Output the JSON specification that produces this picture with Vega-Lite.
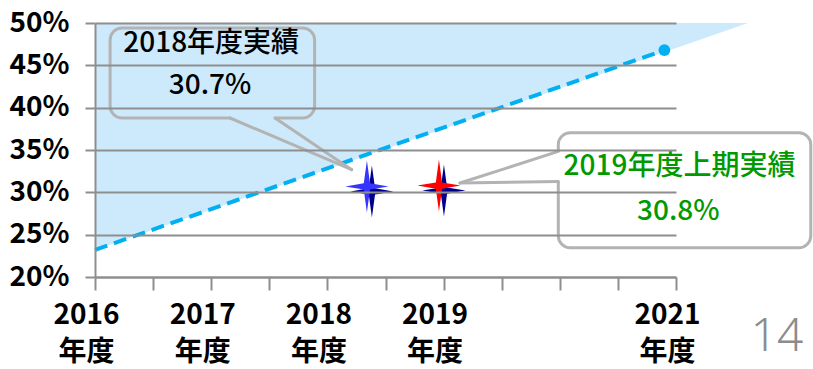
{
  "$schema": "https://vega.github.io/schema/vega-lite/v6.json",
  "width": 581,
  "height": 254,
  "autosize": {"type": "none"},
  "padding": {"left": 95, "top": 23, "right": 137, "bottom": 92},
  "background": "white",
  "config": {"view": {"stroke": null}, "font": "Noto Sans CJK JP"},
  "datasets": {
    "target_line": [
      {"year": 2016, "ratio": 23.2},
      {"year": 2020.9, "ratio": 46.8}
    ],
    "target_area": [
      {"year": 2016, "ratio": 23.2},
      {"year": 2021.62, "ratio": 50}
    ],
    "actual": [
      {"label": "2018年度実績", "year": 2018.34, "ratio": 30.7},
      {"label": "2019年度上期実績", "year": 2018.96, "ratio": 30.8}
    ]
  },
  "layer": [
    {
      "data": {"name": "target_area"},
      "mark": {"type": "area", "color": "#cdeafc", "opacity": 1, "clip": false},
      "encoding": {
        "x": {
          "field": "year", "type": "quantitative",
          "scale": {"domain": [2016, 2021], "nice": false, "zero": false},
          "axis": {
            "title": null,
            "values": [2016, 2016.5, 2017, 2017.5, 2018, 2018.5, 2019, 2019.5, 2020, 2020.5, 2021],
            "labelExpr": "indexof([2016,2017,2018,2019,2021], datum.value) >= 0 ? [toString(datum.value), '年度'] : ''",
            "grid": false,
            "domainColor": "#8e8e8e", "domainWidth": 2,
            "tickColor": "#8e8e8e", "tickWidth": 2, "tickSize": 13,
            "labelFont": "Noto Sans CJK JP", "labelFontWeight": "bold", "labelFontSize": 28,
            "labelLineHeight": 37, "labelPadding": 11, "labelOffset": -9,
            "labelFlush": false, "labelOverlap": false, "labelBound": false,
            "labelColor": "black", "zindex": 1
          }
        },
        "y": {
          "field": "ratio", "type": "quantitative",
          "scale": {"domain": [20, 50], "nice": false, "zero": false},
          "axis": {
            "title": null,
            "values": [20, 25, 30, 35, 40, 45, 50],
            "labelExpr": "datum.value + '%'",
            "grid": true, "gridColor": "#8e8e8e", "gridWidth": 2,
            "domainColor": "#8e8e8e", "domainWidth": 2,
            "tickColor": "#8e8e8e", "tickWidth": 2, "tickSize": 10,
            "labelFont": "Noto Sans CJK JP", "labelFontWeight": "bold", "labelFontSize": 28,
            "labelPadding": 16, "labelColor": "black", "labelBaseline": "middle",
            "labelFlush": false, "labelOverlap": false, "zindex": 1
          }
        },
        "y2": {"datum": 50}
      }
    },
    {
      "data": {"name": "target_line"},
      "mark": {"type": "line", "color": "#00b0f0", "strokeWidth": 4, "strokeDash": [13, 7]},
      "encoding": {
        "x": {"field": "year", "type": "quantitative"},
        "y": {"field": "ratio", "type": "quantitative"}
      }
    },
    {
      "data": {"name": "target_line"},
      "transform": [{"filter": "datum.year > 2020"}],
      "mark": {"type": "circle", "color": "#00b0f0", "size": 140, "opacity": 1},
      "encoding": {
        "x": {"field": "year", "type": "quantitative"},
        "y": {"field": "ratio", "type": "quantitative"}
      }
    },
    {
      "data": {"values": [{}]},
      "mark": {"type": "rect", "filled": false, "stroke": "#b3b3b3", "strokeWidth": 3, "cornerRadius": 12, "clip": false},
      "encoding": {
        "x": {"datum": 2016.13}, "x2": {"datum": 2017.89},
        "y": {"datum": 49.41}, "y2": {"datum": 38.78}
      }
    },
    {
      "data": {"values": [{}]},
      "mark": {"type": "rect", "filled": false, "stroke": "#b3b3b3", "strokeWidth": 3, "cornerRadius": 12, "clip": false},
      "encoding": {
        "x": {"datum": 2019.987}, "x2": {"datum": 2022.16},
        "y": {"datum": 37.04}, "y2": {"datum": 23.46}
      }
    },
    {
      "data": {"values": [{}]},
      "mark": {"type": "rule", "color": "#cdeafc", "strokeWidth": 5, "clip": false},
      "encoding": {
        "x": {"datum": 2017.17}, "x2": {"datum": 2017.54},
        "y": {"datum": 38.78}, "y2": {"datum": 38.78}
      }
    },
    {
      "data": {"values": [{}]},
      "mark": {"type": "rule", "color": "white", "strokeWidth": 5, "clip": false},
      "encoding": {
        "x": {"datum": 2019.987}, "x2": {"datum": 2019.987},
        "y": {"datum": 34.8}, "y2": {"datum": 31.32}
      }
    },
    {
      "data": {"values": [{}]},
      "mark": {"type": "rule", "color": "#b3b3b3", "strokeWidth": 3, "strokeCap": "round", "clip": false},
      "encoding": {
        "x": {"datum": 2017.162}, "x2": {"datum": 2018.209},
        "y": {"datum": 38.78}, "y2": {"datum": 32.67}
      }
    },
    {
      "data": {"values": [{}]},
      "mark": {"type": "rule", "color": "#b3b3b3", "strokeWidth": 3, "strokeCap": "round", "clip": false},
      "encoding": {
        "x": {"datum": 2017.549}, "x2": {"datum": 2018.209},
        "y": {"datum": 38.78}, "y2": {"datum": 32.67}
      }
    },
    {
      "data": {"values": [{}]},
      "mark": {"type": "rule", "color": "#b3b3b3", "strokeWidth": 3, "strokeCap": "round", "clip": false},
      "encoding": {
        "x": {"datum": 2019.987}, "x2": {"datum": 2019.141},
        "y": {"datum": 34.83}, "y2": {"datum": 31.1}
      }
    },
    {
      "data": {"values": [{}]},
      "mark": {"type": "rule", "color": "#b3b3b3", "strokeWidth": 3, "strokeCap": "round", "clip": false},
      "encoding": {
        "x": {"datum": 2019.987}, "x2": {"datum": 2019.141},
        "y": {"datum": 31.29}, "y2": {"datum": 31.1}
      }
    },
    {
      "data": {"name": "actual"},
      "mark": {
        "type": "point",
        "shape": "M0,-1L0.12,-0.12L0.83,0L0.12,0.12L0,1L-0.12,0.12L-0.83,0L-0.12,-0.12Z",
        "filled": true, "size": 2704, "color": "#00008b", "opacity": 1, "strokeWidth": 0,
        "xOffset": 5, "yOffset": 5
      },
      "encoding": {
        "x": {"field": "year", "type": "quantitative"},
        "y": {"field": "ratio", "type": "quantitative"}
      }
    },
    {
      "data": {"name": "actual"},
      "mark": {
        "type": "point",
        "shape": "M0,-1L0.12,-0.12L0.83,0L0.12,0.12L0,1L-0.12,0.12L-0.83,0L-0.12,-0.12Z",
        "filled": true, "size": 2704, "opacity": 1, "strokeWidth": 0
      },
      "encoding": {
        "x": {"field": "year", "type": "quantitative"},
        "y": {"field": "ratio", "type": "quantitative"},
        "color": {
          "field": "label", "type": "nominal",
          "scale": {"domain": ["2018年度実績", "2019年度上期実績"], "range": ["#3535ff", "#ff0000"]},
          "legend": null
        }
      }
    },
    {
      "data": {"values": [{}]},
      "mark": {"type": "text", "text": "2018年度実績", "font": "Noto Sans CJK JP", "fontWeight": 500, "fontSize": 28, "color": "black", "align": "center", "baseline": "middle", "clip": false},
      "encoding": {"x": {"datum": 2017.0}, "y": {"datum": 47.55}}
    },
    {
      "data": {"values": [{}]},
      "mark": {"type": "text", "text": "30.7%", "font": "Noto Sans CJK JP", "fontWeight": 500, "fontSize": 28, "color": "black", "align": "center", "baseline": "middle", "clip": false},
      "encoding": {"x": {"datum": 2016.99}, "y": {"datum": 42.6}}
    },
    {
      "data": {"values": [{}]},
      "mark": {"type": "text", "text": "2019年度上期実績", "font": "Noto Sans CJK JP", "fontWeight": 500, "fontSize": 28, "color": "#009a00", "align": "center", "baseline": "middle", "clip": false},
      "encoding": {"x": {"datum": 2021.03}, "y": {"datum": 33.03}}
    },
    {
      "data": {"values": [{}]},
      "mark": {"type": "text", "text": "30.8%", "font": "Noto Sans CJK JP", "fontWeight": 500, "fontSize": 28, "color": "#009a00", "align": "center", "baseline": "middle", "clip": false},
      "encoding": {"x": {"datum": 2021.02}, "y": {"datum": 27.71}}
    },
    {
      "data": {"values": [{}]},
      "mark": {"type": "text", "text": "14", "font": "Noto Sans", "fontWeight": 300, "fontSize": 46, "color": "#8c8c8c", "align": "center", "baseline": "alphabetic", "clip": false},
      "encoding": {"x": {"datum": 2021.87}, "y": {"datum": 11.3}}
    }
  ]
}
